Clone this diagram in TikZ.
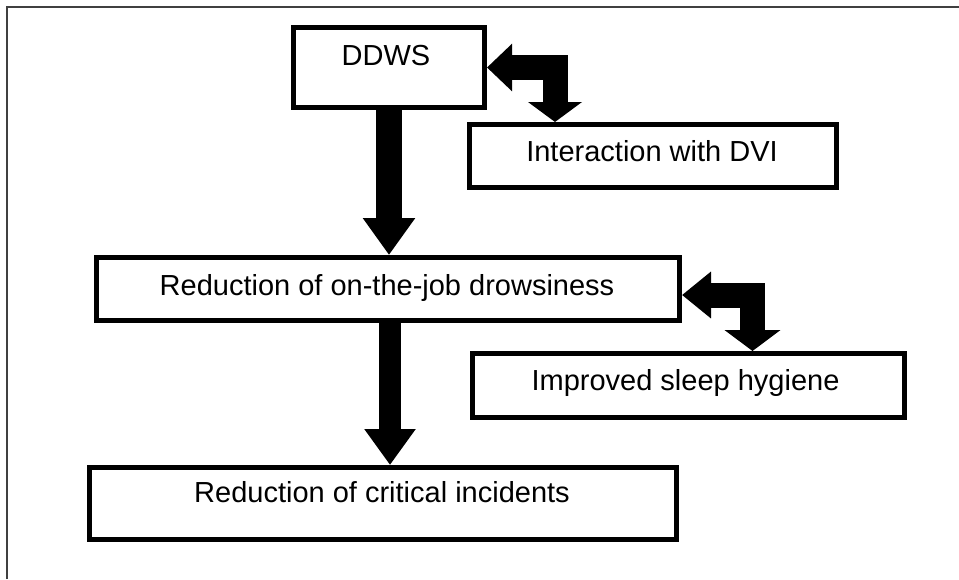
\documentclass[tikz,border=0pt]{standalone}
\usepackage{fontspec}
\setmainfont{Liberation Sans}
\usetikzlibrary{arrows.meta}
\begin{document}
\begin{tikzpicture}[x=0.75pt,y=-0.75pt,
  box/.style={draw=black,line width=3.75pt,fill=white,inner sep=0pt,rectangle},
  lbl/.style={anchor=base,inner sep=0pt,font=\fontsize{21.75}{24}\selectfont},
  frame/.style={draw=black!75,line width=1.5pt},
  downarrow/.style={line width=#1,line join=miter},
  bent/.style={line width=18.75pt,line join=miter}]
\useasboundingbox (0,0) rectangle (959,579);
\draw[frame] (7,579) -- (7,7) -- (962,7);
% boxes
\node[box,minimum width=143.25pt,minimum height=60pt] (ddws) at (389,67.5) {};
\node[box,minimum width=275.25pt,minimum height=47.25pt] (dvi) at (653,156) {};
\node[box,minimum width=437.25pt,minimum height=47.25pt] (drow) at (388,289) {};
\node[box,minimum width=324pt,minimum height=48pt] (sleep) at (688.5,385.5) {};
\node[box,minimum width=440.25pt,minimum height=54pt] (crit) at (383,503.5) {};
% labels
\node[lbl] (tddws) at (386,65) {DDWS};
\node[lbl] (tdvi) at (652,161) {Interaction with DVI};
\node[lbl] (tdrow) at (387,295) {Reduction of on-the-job drowsiness};
\node[lbl] (tsleep) at (685.5,390) {Improved sleep hygiene};
\node[lbl] (tcrit) at (382,502) {Reduction of critical incidents};
% vertical block arrows
\draw[downarrow=19.5pt,-{Triangle[length=27.75pt,width=37.5pt]}] (ddws.south) -- (ddws.south |- drow.north);
\coordinate (a2) at ([xshift=1.5pt]drow.south);
\draw[downarrow=16.5pt,-{Triangle[length=27pt,width=36.75pt]}] (a2) -- (a2 |- crit.north);
% bent double arrows
\coordinate (c1) at ([xshift=-73.5pt]dvi.north);
\draw[bent,{Triangle[length=18.75pt,width=34.5pt]}-{Triangle[length=15pt,width=39.75pt]}] (ddws.east) -| (c1);
\coordinate (c2) at ([xshift=48pt]sleep.north);
\draw[bent,{Triangle[length=21.75pt,width=33.75pt]}-{Triangle[length=15.75pt,width=41.25pt]}] ([yshift=-4.5pt]drow.east) -| (c2);
\end{tikzpicture}
\end{document}
